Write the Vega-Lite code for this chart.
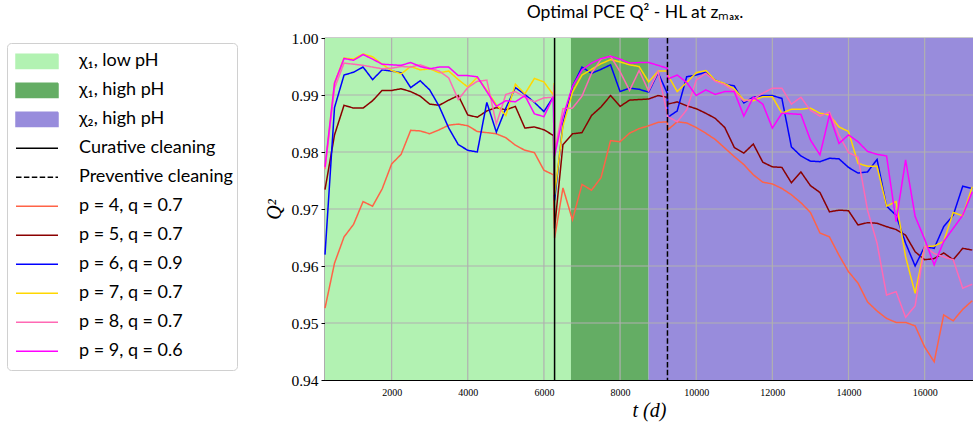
{
"$schema": "https://vega.github.io/schema/vega-lite/v6.json",
"width": 648, "height": 342,
"autosize": {"type": "none"},
"padding": {"left": 325, "top": 38, "right": 0, "bottom": 49},
"background": "white",
"title": {"text": "Optimal PCE Q² - HL at zₘₐₓ.", "font": "Lato", "fontSize": 17.5, "fontWeight": "normal", "color": "black", "anchor": "middle", "dx": -14, "offset": -4, "baseline": "alphabetic"},
"config": {"view": {"stroke": "#333333", "strokeWidth": 1.2}},
"datasets": {
"regions": [
{"series": "χ₁, low pH", "start": 250, "end": 6710},
{"series": "χ₁, high pH", "start": 6710, "end": 8750},
{"series": "χ₂, high pH", "start": 8750, "end": 17270}
],
"cleaning": [
{"series": "Curative cleaning", "t": 6280},
{"series": "Preventive cleaning", "t": 9245}
],
"gx": [{"v": 2000}, {"v": 4000}, {"v": 6000}, {"v": 8000}, {"v": 10000}, {"v": 12000}, {"v": 14000}, {"v": 16000}],
"gy": [{"v": 0.95}, {"v": 0.96}, {"v": 0.97}, {"v": 0.98}, {"v": 0.99}],
"lines": [
{"series":"p = 4, q = 0.7","t":250,"q":0.9526},{"series":"p = 4, q = 0.7","t":500,"q":0.9605},{"series":"p = 4, q = 0.7","t":750,"q":0.9651},{"series":"p = 4, q = 0.7","t":1000,"q":0.9673},{"series":"p = 4, q = 0.7","t":1250,"q":0.9713},{"series":"p = 4, q = 0.7","t":1500,"q":0.9705},{"series":"p = 4, q = 0.7","t":1750,"q":0.9735},{"series":"p = 4, q = 0.7","t":2000,"q":0.9779},{"series":"p = 4, q = 0.7","t":2250,"q":0.9796},{"series":"p = 4, q = 0.7","t":2500,"q":0.9838},{"series":"p = 4, q = 0.7","t":2750,"q":0.9837},{"series":"p = 4, q = 0.7","t":3000,"q":0.9832},{"series":"p = 4, q = 0.7","t":3250,"q":0.9839},{"series":"p = 4, q = 0.7","t":3500,"q":0.9847},{"series":"p = 4, q = 0.7","t":3750,"q":0.9849},{"series":"p = 4, q = 0.7","t":4000,"q":0.9846},{"series":"p = 4, q = 0.7","t":4250,"q":0.9836},{"series":"p = 4, q = 0.7","t":4500,"q":0.9834},{"series":"p = 4, q = 0.7","t":4750,"q":0.9832},{"series":"p = 4, q = 0.7","t":5000,"q":0.9825},{"series":"p = 4, q = 0.7","t":5250,"q":0.9812},{"series":"p = 4, q = 0.7","t":5500,"q":0.9803},{"series":"p = 4, q = 0.7","t":5750,"q":0.9799},{"series":"p = 4, q = 0.7","t":6000,"q":0.9768},{"series":"p = 4, q = 0.7","t":6250,"q":0.976},{"series":"p = 4, q = 0.7","t":6280,"q":0.9649},{"series":"p = 4, q = 0.7","t":6500,"q":0.9737},{"series":"p = 4, q = 0.7","t":6750,"q":0.9681},{"series":"p = 4, q = 0.7","t":7000,"q":0.9743},{"series":"p = 4, q = 0.7","t":7250,"q":0.9733},{"series":"p = 4, q = 0.7","t":7500,"q":0.9755},{"series":"p = 4, q = 0.7","t":7750,"q":0.982},{"series":"p = 4, q = 0.7","t":8000,"q":0.9818},{"series":"p = 4, q = 0.7","t":8250,"q":0.9833},{"series":"p = 4, q = 0.7","t":8500,"q":0.9841},{"series":"p = 4, q = 0.7","t":8750,"q":0.9846},{"series":"p = 4, q = 0.7","t":9000,"q":0.9852},{"series":"p = 4, q = 0.7","t":9240,"q":0.9853},{"series":"p = 4, q = 0.7","t":9255,"q":0.9839},{"series":"p = 4, q = 0.7","t":9500,"q":0.9853},{"series":"p = 4, q = 0.7","t":9750,"q":0.9851},{"series":"p = 4, q = 0.7","t":10000,"q":0.9843},{"series":"p = 4, q = 0.7","t":10250,"q":0.9833},{"series":"p = 4, q = 0.7","t":10500,"q":0.9822},{"series":"p = 4, q = 0.7","t":10750,"q":0.9807},{"series":"p = 4, q = 0.7","t":11000,"q":0.9792},{"series":"p = 4, q = 0.7","t":11250,"q":0.9778},{"series":"p = 4, q = 0.7","t":11500,"q":0.976},{"series":"p = 4, q = 0.7","t":11750,"q":0.9747},{"series":"p = 4, q = 0.7","t":12000,"q":0.9744},{"series":"p = 4, q = 0.7","t":12250,"q":0.9736},{"series":"p = 4, q = 0.7","t":12500,"q":0.9725},{"series":"p = 4, q = 0.7","t":12750,"q":0.9711},{"series":"p = 4, q = 0.7","t":13000,"q":0.9694},{"series":"p = 4, q = 0.7","t":13250,"q":0.9658},{"series":"p = 4, q = 0.7","t":13500,"q":0.9651},{"series":"p = 4, q = 0.7","t":13750,"q":0.9619},{"series":"p = 4, q = 0.7","t":14000,"q":0.959},{"series":"p = 4, q = 0.7","t":14250,"q":0.957},{"series":"p = 4, q = 0.7","t":14500,"q":0.9537},{"series":"p = 4, q = 0.7","t":14750,"q":0.9521},{"series":"p = 4, q = 0.7","t":15000,"q":0.9508},{"series":"p = 4, q = 0.7","t":15250,"q":0.9501},{"series":"p = 4, q = 0.7","t":15500,"q":0.9501},{"series":"p = 4, q = 0.7","t":15750,"q":0.9495},{"series":"p = 4, q = 0.7","t":16000,"q":0.9458},{"series":"p = 4, q = 0.7","t":16250,"q":0.9432},{"series":"p = 4, q = 0.7","t":16500,"q":0.9514},{"series":"p = 4, q = 0.7","t":16750,"q":0.9504},{"series":"p = 4, q = 0.7","t":17000,"q":0.9524},{"series":"p = 4, q = 0.7","t":17250,"q":0.9539},
{"series":"p = 5, q = 0.7","t":250,"q":0.9734},{"series":"p = 5, q = 0.7","t":500,"q":0.983},{"series":"p = 5, q = 0.7","t":750,"q":0.9882},{"series":"p = 5, q = 0.7","t":1000,"q":0.9877},{"series":"p = 5, q = 0.7","t":1250,"q":0.9877},{"series":"p = 5, q = 0.7","t":1500,"q":0.989},{"series":"p = 5, q = 0.7","t":1750,"q":0.9908},{"series":"p = 5, q = 0.7","t":2000,"q":0.9908},{"series":"p = 5, q = 0.7","t":2250,"q":0.9911},{"series":"p = 5, q = 0.7","t":2500,"q":0.9906},{"series":"p = 5, q = 0.7","t":2750,"q":0.9898},{"series":"p = 5, q = 0.7","t":3000,"q":0.9884},{"series":"p = 5, q = 0.7","t":3250,"q":0.9882},{"series":"p = 5, q = 0.7","t":3500,"q":0.9891},{"series":"p = 5, q = 0.7","t":3750,"q":0.9899},{"series":"p = 5, q = 0.7","t":4000,"q":0.9865},{"series":"p = 5, q = 0.7","t":4250,"q":0.9861},{"series":"p = 5, q = 0.7","t":4500,"q":0.9872},{"series":"p = 5, q = 0.7","t":4750,"q":0.9878},{"series":"p = 5, q = 0.7","t":5000,"q":0.9874},{"series":"p = 5, q = 0.7","t":5250,"q":0.988},{"series":"p = 5, q = 0.7","t":5500,"q":0.9842},{"series":"p = 5, q = 0.7","t":5750,"q":0.9844},{"series":"p = 5, q = 0.7","t":6000,"q":0.9839},{"series":"p = 5, q = 0.7","t":6250,"q":0.9829},{"series":"p = 5, q = 0.7","t":6280,"q":0.9666},{"series":"p = 5, q = 0.7","t":6500,"q":0.9813},{"series":"p = 5, q = 0.7","t":6750,"q":0.9832},{"series":"p = 5, q = 0.7","t":7000,"q":0.9834},{"series":"p = 5, q = 0.7","t":7250,"q":0.9864},{"series":"p = 5, q = 0.7","t":7500,"q":0.9879},{"series":"p = 5, q = 0.7","t":7750,"q":0.9899},{"series":"p = 5, q = 0.7","t":8000,"q":0.988},{"series":"p = 5, q = 0.7","t":8250,"q":0.9891},{"series":"p = 5, q = 0.7","t":8500,"q":0.9892},{"series":"p = 5, q = 0.7","t":8750,"q":0.9893},{"series":"p = 5, q = 0.7","t":9000,"q":0.9899},{"series":"p = 5, q = 0.7","t":9240,"q":0.9896},{"series":"p = 5, q = 0.7","t":9255,"q":0.9884},{"series":"p = 5, q = 0.7","t":9500,"q":0.9888},{"series":"p = 5, q = 0.7","t":9750,"q":0.9881},{"series":"p = 5, q = 0.7","t":10000,"q":0.9876},{"series":"p = 5, q = 0.7","t":10250,"q":0.9868},{"series":"p = 5, q = 0.7","t":10500,"q":0.9859},{"series":"p = 5, q = 0.7","t":10750,"q":0.9843},{"series":"p = 5, q = 0.7","t":11000,"q":0.9808},{"series":"p = 5, q = 0.7","t":11250,"q":0.9798},{"series":"p = 5, q = 0.7","t":11500,"q":0.9814},{"series":"p = 5, q = 0.7","t":11750,"q":0.9782},{"series":"p = 5, q = 0.7","t":12000,"q":0.9774},{"series":"p = 5, q = 0.7","t":12250,"q":0.9773},{"series":"p = 5, q = 0.7","t":12500,"q":0.9746},{"series":"p = 5, q = 0.7","t":12750,"q":0.9765},{"series":"p = 5, q = 0.7","t":13000,"q":0.9741},{"series":"p = 5, q = 0.7","t":13250,"q":0.9729},{"series":"p = 5, q = 0.7","t":13500,"q":0.9695},{"series":"p = 5, q = 0.7","t":13750,"q":0.9698},{"series":"p = 5, q = 0.7","t":14000,"q":0.9697},{"series":"p = 5, q = 0.7","t":14250,"q":0.9672},{"series":"p = 5, q = 0.7","t":14500,"q":0.9676},{"series":"p = 5, q = 0.7","t":14750,"q":0.9675},{"series":"p = 5, q = 0.7","t":15000,"q":0.9669},{"series":"p = 5, q = 0.7","t":15250,"q":0.9664},{"series":"p = 5, q = 0.7","t":15500,"q":0.9654},{"series":"p = 5, q = 0.7","t":15750,"q":0.9625},{"series":"p = 5, q = 0.7","t":16000,"q":0.9611},{"series":"p = 5, q = 0.7","t":16250,"q":0.9613},{"series":"p = 5, q = 0.7","t":16500,"q":0.9623},{"series":"p = 5, q = 0.7","t":16750,"q":0.9611},{"series":"p = 5, q = 0.7","t":17000,"q":0.9631},{"series":"p = 5, q = 0.7","t":17250,"q":0.9628},
{"series":"p = 6, q = 0.9","t":250,"q":0.962},{"series":"p = 6, q = 0.9","t":500,"q":0.9878},{"series":"p = 6, q = 0.9","t":750,"q":0.9935},{"series":"p = 6, q = 0.9","t":1000,"q":0.994},{"series":"p = 6, q = 0.9","t":1250,"q":0.9949},{"series":"p = 6, q = 0.9","t":1500,"q":0.9927},{"series":"p = 6, q = 0.9","t":1750,"q":0.9944},{"series":"p = 6, q = 0.9","t":2000,"q":0.9942},{"series":"p = 6, q = 0.9","t":2250,"q":0.9939},{"series":"p = 6, q = 0.9","t":2500,"q":0.9913},{"series":"p = 6, q = 0.9","t":2750,"q":0.9925},{"series":"p = 6, q = 0.9","t":3000,"q":0.9909},{"series":"p = 6, q = 0.9","t":3250,"q":0.988},{"series":"p = 6, q = 0.9","t":3500,"q":0.9842},{"series":"p = 6, q = 0.9","t":3750,"q":0.9813},{"series":"p = 6, q = 0.9","t":4000,"q":0.9803},{"series":"p = 6, q = 0.9","t":4250,"q":0.98},{"series":"p = 6, q = 0.9","t":4500,"q":0.9887},{"series":"p = 6, q = 0.9","t":4750,"q":0.9835},{"series":"p = 6, q = 0.9","t":5000,"q":0.9877},{"series":"p = 6, q = 0.9","t":5250,"q":0.9913},{"series":"p = 6, q = 0.9","t":5500,"q":0.9901},{"series":"p = 6, q = 0.9","t":5750,"q":0.9887},{"series":"p = 6, q = 0.9","t":6000,"q":0.9871},{"series":"p = 6, q = 0.9","t":6250,"q":0.9897},{"series":"p = 6, q = 0.9","t":6280,"q":0.9715},{"series":"p = 6, q = 0.9","t":6500,"q":0.985},{"series":"p = 6, q = 0.9","t":6750,"q":0.9915},{"series":"p = 6, q = 0.9","t":7000,"q":0.9949},{"series":"p = 6, q = 0.9","t":7250,"q":0.9938},{"series":"p = 6, q = 0.9","t":7500,"q":0.9945},{"series":"p = 6, q = 0.9","t":7750,"q":0.9953},{"series":"p = 6, q = 0.9","t":8000,"q":0.9906},{"series":"p = 6, q = 0.9","t":8250,"q":0.9912},{"series":"p = 6, q = 0.9","t":8500,"q":0.991},{"series":"p = 6, q = 0.9","t":8750,"q":0.9905},{"series":"p = 6, q = 0.9","t":9000,"q":0.9939},{"series":"p = 6, q = 0.9","t":9240,"q":0.9903},{"series":"p = 6, q = 0.9","t":9255,"q":0.9861},{"series":"p = 6, q = 0.9","t":9500,"q":0.9872},{"series":"p = 6, q = 0.9","t":9750,"q":0.9932},{"series":"p = 6, q = 0.9","t":10000,"q":0.9935},{"series":"p = 6, q = 0.9","t":10250,"q":0.994},{"series":"p = 6, q = 0.9","t":10500,"q":0.9926},{"series":"p = 6, q = 0.9","t":10750,"q":0.9919},{"series":"p = 6, q = 0.9","t":11000,"q":0.9916},{"series":"p = 6, q = 0.9","t":11250,"q":0.9886},{"series":"p = 6, q = 0.9","t":11500,"q":0.9896},{"series":"p = 6, q = 0.9","t":11750,"q":0.9899},{"series":"p = 6, q = 0.9","t":12000,"q":0.9899},{"series":"p = 6, q = 0.9","t":12250,"q":0.9894},{"series":"p = 6, q = 0.9","t":12500,"q":0.9809},{"series":"p = 6, q = 0.9","t":12750,"q":0.9793},{"series":"p = 6, q = 0.9","t":13000,"q":0.9784},{"series":"p = 6, q = 0.9","t":13250,"q":0.9783},{"series":"p = 6, q = 0.9","t":13500,"q":0.9789},{"series":"p = 6, q = 0.9","t":13750,"q":0.9788},{"series":"p = 6, q = 0.9","t":14000,"q":0.9773},{"series":"p = 6, q = 0.9","t":14250,"q":0.9763},{"series":"p = 6, q = 0.9","t":14500,"q":0.9765},{"series":"p = 6, q = 0.9","t":14750,"q":0.9787},{"series":"p = 6, q = 0.9","t":15000,"q":0.9705},{"series":"p = 6, q = 0.9","t":15250,"q":0.9689},{"series":"p = 6, q = 0.9","t":15500,"q":0.964},{"series":"p = 6, q = 0.9","t":15750,"q":0.96},{"series":"p = 6, q = 0.9","t":16000,"q":0.9634},{"series":"p = 6, q = 0.9","t":16250,"q":0.9631},{"series":"p = 6, q = 0.9","t":16500,"q":0.9669},{"series":"p = 6, q = 0.9","t":16750,"q":0.9689},{"series":"p = 6, q = 0.9","t":17000,"q":0.974},{"series":"p = 6, q = 0.9","t":17250,"q":0.9736},
{"series":"p = 7, q = 0.7","t":250,"q":0.977},{"series":"p = 7, q = 0.7","t":500,"q":0.9921},{"series":"p = 7, q = 0.7","t":750,"q":0.9965},{"series":"p = 7, q = 0.7","t":1000,"q":0.9963},{"series":"p = 7, q = 0.7","t":1250,"q":0.9972},{"series":"p = 7, q = 0.7","t":1500,"q":0.9967},{"series":"p = 7, q = 0.7","t":1750,"q":0.9954},{"series":"p = 7, q = 0.7","t":2000,"q":0.9943},{"series":"p = 7, q = 0.7","t":2250,"q":0.9937},{"series":"p = 7, q = 0.7","t":2500,"q":0.995},{"series":"p = 7, q = 0.7","t":2750,"q":0.9944},{"series":"p = 7, q = 0.7","t":3000,"q":0.9946},{"series":"p = 7, q = 0.7","t":3250,"q":0.9939},{"series":"p = 7, q = 0.7","t":3500,"q":0.9942},{"series":"p = 7, q = 0.7","t":3750,"q":0.9927},{"series":"p = 7, q = 0.7","t":4000,"q":0.9914},{"series":"p = 7, q = 0.7","t":4250,"q":0.9931},{"series":"p = 7, q = 0.7","t":4500,"q":0.9908},{"series":"p = 7, q = 0.7","t":4750,"q":0.9883},{"series":"p = 7, q = 0.7","t":5000,"q":0.9864},{"series":"p = 7, q = 0.7","t":5250,"q":0.9919},{"series":"p = 7, q = 0.7","t":5500,"q":0.9902},{"series":"p = 7, q = 0.7","t":5750,"q":0.9929},{"series":"p = 7, q = 0.7","t":6000,"q":0.9923},{"series":"p = 7, q = 0.7","t":6250,"q":0.99},{"series":"p = 7, q = 0.7","t":6270,"q":0.9921},{"series":"p = 7, q = 0.7","t":6280,"q":0.9725},{"series":"p = 7, q = 0.7","t":6500,"q":0.9845},{"series":"p = 7, q = 0.7","t":6750,"q":0.9905},{"series":"p = 7, q = 0.7","t":7000,"q":0.9935},{"series":"p = 7, q = 0.7","t":7250,"q":0.9945},{"series":"p = 7, q = 0.7","t":7500,"q":0.9955},{"series":"p = 7, q = 0.7","t":7750,"q":0.9962},{"series":"p = 7, q = 0.7","t":8000,"q":0.9958},{"series":"p = 7, q = 0.7","t":8250,"q":0.9953},{"series":"p = 7, q = 0.7","t":8500,"q":0.995},{"series":"p = 7, q = 0.7","t":8750,"q":0.9923},{"series":"p = 7, q = 0.7","t":9000,"q":0.9942},{"series":"p = 7, q = 0.7","t":9240,"q":0.9942},{"series":"p = 7, q = 0.7","t":9255,"q":0.9935},{"series":"p = 7, q = 0.7","t":9500,"q":0.9906},{"series":"p = 7, q = 0.7","t":9750,"q":0.9922},{"series":"p = 7, q = 0.7","t":10000,"q":0.9939},{"series":"p = 7, q = 0.7","t":10250,"q":0.9943},{"series":"p = 7, q = 0.7","t":10500,"q":0.9926},{"series":"p = 7, q = 0.7","t":10750,"q":0.992},{"series":"p = 7, q = 0.7","t":11000,"q":0.9911},{"series":"p = 7, q = 0.7","t":11250,"q":0.9891},{"series":"p = 7, q = 0.7","t":11500,"q":0.989},{"series":"p = 7, q = 0.7","t":11750,"q":0.9897},{"series":"p = 7, q = 0.7","t":12000,"q":0.9897},{"series":"p = 7, q = 0.7","t":12250,"q":0.9868},{"series":"p = 7, q = 0.7","t":12500,"q":0.9875},{"series":"p = 7, q = 0.7","t":12750,"q":0.9875},{"series":"p = 7, q = 0.7","t":13000,"q":0.9877},{"series":"p = 7, q = 0.7","t":13250,"q":0.9868},{"series":"p = 7, q = 0.7","t":13500,"q":0.9865},{"series":"p = 7, q = 0.7","t":13750,"q":0.9844},{"series":"p = 7, q = 0.7","t":14000,"q":0.9836},{"series":"p = 7, q = 0.7","t":14250,"q":0.978},{"series":"p = 7, q = 0.7","t":14500,"q":0.9775},{"series":"p = 7, q = 0.7","t":14750,"q":0.9775},{"series":"p = 7, q = 0.7","t":15000,"q":0.9705},{"series":"p = 7, q = 0.7","t":15250,"q":0.9713},{"series":"p = 7, q = 0.7","t":15500,"q":0.9616},{"series":"p = 7, q = 0.7","t":15750,"q":0.9552},{"series":"p = 7, q = 0.7","t":16000,"q":0.9634},{"series":"p = 7, q = 0.7","t":16250,"q":0.9635},{"series":"p = 7, q = 0.7","t":16500,"q":0.9643},{"series":"p = 7, q = 0.7","t":16750,"q":0.9694},{"series":"p = 7, q = 0.7","t":17000,"q":0.9688},{"series":"p = 7, q = 0.7","t":17250,"q":0.9739},
{"series":"p = 8, q = 0.7","t":250,"q":0.977},{"series":"p = 8, q = 0.7","t":500,"q":0.9912},{"series":"p = 8, q = 0.7","t":750,"q":0.9956},{"series":"p = 8, q = 0.7","t":1000,"q":0.9954},{"series":"p = 8, q = 0.7","t":1250,"q":0.9952},{"series":"p = 8, q = 0.7","t":1500,"q":0.9949},{"series":"p = 8, q = 0.7","t":1750,"q":0.9946},{"series":"p = 8, q = 0.7","t":2000,"q":0.9947},{"series":"p = 8, q = 0.7","t":2250,"q":0.995},{"series":"p = 8, q = 0.7","t":2500,"q":0.9949},{"series":"p = 8, q = 0.7","t":2750,"q":0.9953},{"series":"p = 8, q = 0.7","t":3000,"q":0.9947},{"series":"p = 8, q = 0.7","t":3250,"q":0.9942},{"series":"p = 8, q = 0.7","t":3500,"q":0.993},{"series":"p = 8, q = 0.7","t":3750,"q":0.9892},{"series":"p = 8, q = 0.7","t":4000,"q":0.9913},{"series":"p = 8, q = 0.7","t":4250,"q":0.9924},{"series":"p = 8, q = 0.7","t":4500,"q":0.9926},{"series":"p = 8, q = 0.7","t":4750,"q":0.9849},{"series":"p = 8, q = 0.7","t":5000,"q":0.9901},{"series":"p = 8, q = 0.7","t":5250,"q":0.9906},{"series":"p = 8, q = 0.7","t":5500,"q":0.9896},{"series":"p = 8, q = 0.7","t":5750,"q":0.9888},{"series":"p = 8, q = 0.7","t":6000,"q":0.9895},{"series":"p = 8, q = 0.7","t":6250,"q":0.9896},{"series":"p = 8, q = 0.7","t":6270,"q":0.9918},{"series":"p = 8, q = 0.7","t":6280,"q":0.98},{"series":"p = 8, q = 0.7","t":6500,"q":0.9876},{"series":"p = 8, q = 0.7","t":6750,"q":0.9877},{"series":"p = 8, q = 0.7","t":7000,"q":0.9898},{"series":"p = 8, q = 0.7","t":7250,"q":0.9938},{"series":"p = 8, q = 0.7","t":7500,"q":0.9963},{"series":"p = 8, q = 0.7","t":7750,"q":0.9968},{"series":"p = 8, q = 0.7","t":8000,"q":0.9941},{"series":"p = 8, q = 0.7","t":8250,"q":0.9908},{"series":"p = 8, q = 0.7","t":8500,"q":0.9943},{"series":"p = 8, q = 0.7","t":8750,"q":0.9907},{"series":"p = 8, q = 0.7","t":9000,"q":0.9941},{"series":"p = 8, q = 0.7","t":9255,"q":0.9862},{"series":"p = 8, q = 0.7","t":9500,"q":0.9853},{"series":"p = 8, q = 0.7","t":9750,"q":0.9874},{"series":"p = 8, q = 0.7","t":10000,"q":0.9926},{"series":"p = 8, q = 0.7","t":10250,"q":0.9938},{"series":"p = 8, q = 0.7","t":10500,"q":0.9924},{"series":"p = 8, q = 0.7","t":10750,"q":0.9918},{"series":"p = 8, q = 0.7","t":11000,"q":0.9906},{"series":"p = 8, q = 0.7","t":11250,"q":0.9889},{"series":"p = 8, q = 0.7","t":11500,"q":0.9893},{"series":"p = 8, q = 0.7","t":11750,"q":0.9903},{"series":"p = 8, q = 0.7","t":12000,"q":0.9912},{"series":"p = 8, q = 0.7","t":12250,"q":0.9912},{"series":"p = 8, q = 0.7","t":12500,"q":0.9884},{"series":"p = 8, q = 0.7","t":12750,"q":0.9896},{"series":"p = 8, q = 0.7","t":13000,"q":0.9873},{"series":"p = 8, q = 0.7","t":13250,"q":0.9863},{"series":"p = 8, q = 0.7","t":13500,"q":0.987},{"series":"p = 8, q = 0.7","t":13750,"q":0.983},{"series":"p = 8, q = 0.7","t":14000,"q":0.9799},{"series":"p = 8, q = 0.7","t":14250,"q":0.9791},{"series":"p = 8, q = 0.7","t":14500,"q":0.9698},{"series":"p = 8, q = 0.7","t":14750,"q":0.964},{"series":"p = 8, q = 0.7","t":15000,"q":0.9549},{"series":"p = 8, q = 0.7","t":15250,"q":0.9555},{"series":"p = 8, q = 0.7","t":15500,"q":0.951},{"series":"p = 8, q = 0.7","t":15750,"q":0.953},{"series":"p = 8, q = 0.7","t":16000,"q":0.9634},{"series":"p = 8, q = 0.7","t":16250,"q":0.9622},{"series":"p = 8, q = 0.7","t":16500,"q":0.9616},{"series":"p = 8, q = 0.7","t":16750,"q":0.9611},{"series":"p = 8, q = 0.7","t":17000,"q":0.9561},{"series":"p = 8, q = 0.7","t":17250,"q":0.9568},
{"series":"p = 9, q = 0.6","t":250,"q":0.9774},{"series":"p = 9, q = 0.6","t":500,"q":0.9921},{"series":"p = 9, q = 0.6","t":750,"q":0.9964},{"series":"p = 9, q = 0.6","t":1000,"q":0.9961},{"series":"p = 9, q = 0.6","t":1250,"q":0.9971},{"series":"p = 9, q = 0.6","t":1500,"q":0.9963},{"series":"p = 9, q = 0.6","t":1750,"q":0.9954},{"series":"p = 9, q = 0.6","t":2000,"q":0.9953},{"series":"p = 9, q = 0.6","t":2250,"q":0.9952},{"series":"p = 9, q = 0.6","t":2500,"q":0.9957},{"series":"p = 9, q = 0.6","t":2750,"q":0.995},{"series":"p = 9, q = 0.6","t":3000,"q":0.9946},{"series":"p = 9, q = 0.6","t":3250,"q":0.9949},{"series":"p = 9, q = 0.6","t":3500,"q":0.9949},{"series":"p = 9, q = 0.6","t":3750,"q":0.9934},{"series":"p = 9, q = 0.6","t":4000,"q":0.9934},{"series":"p = 9, q = 0.6","t":4250,"q":0.9932},{"series":"p = 9, q = 0.6","t":4500,"q":0.9906},{"series":"p = 9, q = 0.6","t":4750,"q":0.988},{"series":"p = 9, q = 0.6","t":5000,"q":0.989},{"series":"p = 9, q = 0.6","t":5250,"q":0.9888},{"series":"p = 9, q = 0.6","t":5500,"q":0.9899},{"series":"p = 9, q = 0.6","t":5750,"q":0.9867},{"series":"p = 9, q = 0.6","t":6000,"q":0.9862},{"series":"p = 9, q = 0.6","t":6250,"q":0.9897},{"series":"p = 9, q = 0.6","t":6280,"q":0.9793},{"series":"p = 9, q = 0.6","t":6500,"q":0.9862},{"series":"p = 9, q = 0.6","t":6750,"q":0.9915},{"series":"p = 9, q = 0.6","t":7000,"q":0.9944},{"series":"p = 9, q = 0.6","t":7250,"q":0.9956},{"series":"p = 9, q = 0.6","t":7500,"q":0.9964},{"series":"p = 9, q = 0.6","t":7750,"q":0.9968},{"series":"p = 9, q = 0.6","t":8000,"q":0.9963},{"series":"p = 9, q = 0.6","t":8250,"q":0.9956},{"series":"p = 9, q = 0.6","t":8500,"q":0.9957},{"series":"p = 9, q = 0.6","t":8750,"q":0.9957},{"series":"p = 9, q = 0.6","t":9000,"q":0.9952},{"series":"p = 9, q = 0.6","t":9240,"q":0.9947},{"series":"p = 9, q = 0.6","t":9255,"q":0.9928},{"series":"p = 9, q = 0.6","t":9500,"q":0.9935},{"series":"p = 9, q = 0.6","t":9750,"q":0.9922},{"series":"p = 9, q = 0.6","t":10000,"q":0.9899},{"series":"p = 9, q = 0.6","t":10250,"q":0.9909},{"series":"p = 9, q = 0.6","t":10500,"q":0.9901},{"series":"p = 9, q = 0.6","t":10750,"q":0.9906},{"series":"p = 9, q = 0.6","t":11000,"q":0.9906},{"series":"p = 9, q = 0.6","t":11250,"q":0.9863},{"series":"p = 9, q = 0.6","t":11500,"q":0.9896},{"series":"p = 9, q = 0.6","t":11750,"q":0.9884},{"series":"p = 9, q = 0.6","t":12000,"q":0.9842},{"series":"p = 9, q = 0.6","t":12250,"q":0.9868},{"series":"p = 9, q = 0.6","t":12500,"q":0.9867},{"series":"p = 9, q = 0.6","t":12750,"q":0.9866},{"series":"p = 9, q = 0.6","t":13000,"q":0.9821},{"series":"p = 9, q = 0.6","t":13250,"q":0.9795},{"series":"p = 9, q = 0.6","t":13500,"q":0.9865},{"series":"p = 9, q = 0.6","t":13750,"q":0.9815},{"series":"p = 9, q = 0.6","t":14000,"q":0.983},{"series":"p = 9, q = 0.6","t":14250,"q":0.9818},{"series":"p = 9, q = 0.6","t":14500,"q":0.9801},{"series":"p = 9, q = 0.6","t":14750,"q":0.9796},{"series":"p = 9, q = 0.6","t":15000,"q":0.9793},{"series":"p = 9, q = 0.6","t":15250,"q":0.9678},{"series":"p = 9, q = 0.6","t":15500,"q":0.9786},{"series":"p = 9, q = 0.6","t":15750,"q":0.9687},{"series":"p = 9, q = 0.6","t":16000,"q":0.9647},{"series":"p = 9, q = 0.6","t":16250,"q":0.9602},{"series":"p = 9, q = 0.6","t":16500,"q":0.9643},{"series":"p = 9, q = 0.6","t":16750,"q":0.9666},{"series":"p = 9, q = 0.6","t":17000,"q":0.9689},{"series":"p = 9, q = 0.6","t":17250,"q":0.973}
]
},
"layer": [
{
"data": {"name": "regions"},
"mark": {"type": "rect", "opacity": 1, "strokeWidth": 0},
"encoding": {
"x": {"field": "start", "type": "quantitative", "scale": {"domain": [250, 17270], "nice": false, "zero": false}},
"x2": {"field": "end"},
"color": {"field": "series", "type": "nominal",
"scale": {"domain": ["χ₁, low pH", "χ₁, high pH", "χ₂, high pH", "Curative cleaning", "Preventive cleaning", "p = 4, q = 0.7", "p = 5, q = 0.7", "p = 6, q = 0.9", "p = 7, q = 0.7", "p = 8, q = 0.7", "p = 9, q = 0.6"],
"range": ["#b2f2b2", "#64ad64", "#988cdc", "#000000", "#000000", "#ff6347", "#8b0000", "#0000ff", "#ffd700", "#ff69b4", "#ff00ff"]},
"legend": {
"orient": "none", "legendX": -318, "legendY": 5, "title": null,
"symbolType": "stroke", "symbolSize": 1764, "symbolStrokeWidth": 1.5, "symbolOpacity": 1,
"clipHeight": 28.6, "rowPadding": 0, "padding": 4, "symbolOffset": 4, "labelOffset": 20,
"labelFont": "Lato", "labelFontSize": 18, "labelColor": "black", "labelLimit": 400,
"strokeColor": "#d0d0d0", "fillColor": "white", "cornerRadius": 4,
"encode": {
"labels": {
"font": {"condition": {"test": "indexof(datum.label, '=') >= 0", "value": "Liberation Serif"}, "value": "Lato"},
"fontStyle": {"condition": {"test": "indexof(datum.label, '=') >= 0", "value": "italic"}, "value": "normal"},
"fontSize": {"condition": {"test": "indexof(datum.label, '=') >= 0", "value": 19}, "value": 18}
}
}
}
}
}
},
{
"data": {"name": "gx"},
"mark": {"type": "rule", "color": "#b0b0b0", "strokeWidth": 1.2},
"encoding": {"x": {"field": "v", "type": "quantitative", "scale": {"domain": [250, 17270], "nice": false, "zero": false}}}
},
{
"data": {"name": "gy"},
"mark": {"type": "rule", "color": "#b0b0b0", "strokeWidth": 1.2},
"encoding": {"y": {"field": "v", "type": "quantitative", "scale": {"domain": [0.94, 1.0], "nice": false, "zero": false}}}
},
{
"data": {"name": "lines"},
"mark": {"type": "line", "strokeWidth": 1.5},
"encoding": {
"x": {"field": "t", "type": "quantitative", "scale": {"domain": [250, 17270], "nice": false, "zero": false},
"axis": {"values": [2000, 4000, 6000, 8000, 10000, 12000, 14000, 16000], "format": "d", "grid": false, "ticks": false, "labelFlush": false,
"labelFont": "Liberation Serif", "labelFontSize": 10, "labelColor": "black", "labelPadding": 7, "domainColor": "black", "domainWidth": 1.2,
"title": "t (d)", "titleFont": "Liberation Serif", "titleFontStyle": "italic", "titleFontSize": 20, "titleFontWeight": "normal", "titleColor": "black", "titlePadding": 3}},
"y": {"field": "q", "type": "quantitative", "scale": {"domain": [0.94, 1.0], "nice": false, "zero": false},
"axis": {"values": [0.94, 0.95, 0.96, 0.97, 0.98, 0.99, 1.0], "format": ".2f", "grid": false, "tickSize": 4, "tickColor": "black", "labelFlush": false,
"labelFont": "Liberation Serif", "labelFontSize": 15.5, "labelColor": "black", "labelPadding": 3, "domainColor": "black", "domainWidth": 1.2,
"title": "Q²", "titleFont": "Liberation Serif", "titleFontStyle": "italic", "titleFontSize": 20, "titleFontWeight": "normal", "titleColor": "black", "titlePadding": 6}},
"color": {"field": "series", "type": "nominal"},
"strokeDash": {"field": "series", "type": "nominal",
"scale": {"domain": ["χ₁, low pH", "χ₁, high pH", "χ₂, high pH", "Curative cleaning", "Preventive cleaning", "p = 4, q = 0.7", "p = 5, q = 0.7", "p = 6, q = 0.9", "p = 7, q = 0.7", "p = 8, q = 0.7", "p = 9, q = 0.6"],
"range": [[1, 0], [1, 0], [1, 0], [1, 0], [5.5, 2.4], [1, 0], [1, 0], [1, 0], [1, 0], [1, 0], [1, 0]]}}
}
},
{
"data": {"name": "cleaning"},
"mark": {"type": "rule", "strokeWidth": 1.5},
"encoding": {
"x": {"field": "t", "type": "quantitative", "scale": {"domain": [250, 17270], "nice": false, "zero": false}},
"color": {"field": "series", "type": "nominal"},
"strokeDash": {"field": "series", "type": "nominal"}
}
},
{
"data": {"name": "regions"},
"mark": {"type": "point", "opacity": 0, "filled": true},
"encoding": {
"x": {"field": "start", "type": "quantitative", "scale": {"domain": [250, 17270], "nice": false, "zero": false}},
"y": {"datum": 0.97, "type": "quantitative", "scale": {"domain": [0.94, 1.0], "nice": false, "zero": false}},
"color": {"field": "series", "type": "nominal"},
"shape": {"field": "series", "type": "nominal",
"scale": {"domain": ["χ₁, low pH", "χ₁, high pH", "χ₂, high pH", "Curative cleaning", "Preventive cleaning", "p = 4, q = 0.7", "p = 5, q = 0.7", "p = 6, q = 0.9", "p = 7, q = 0.7", "p = 8, q = 0.7", "p = 9, q = 0.6"],
"range": ["M-1,-0.34H1V0.34H-1Z", "M-1,-0.34H1V0.34H-1Z", "M-1,-0.34H1V0.34H-1Z", "stroke", "stroke", "stroke", "stroke", "stroke", "stroke", "stroke", "stroke"]}}
}
}
]
}
